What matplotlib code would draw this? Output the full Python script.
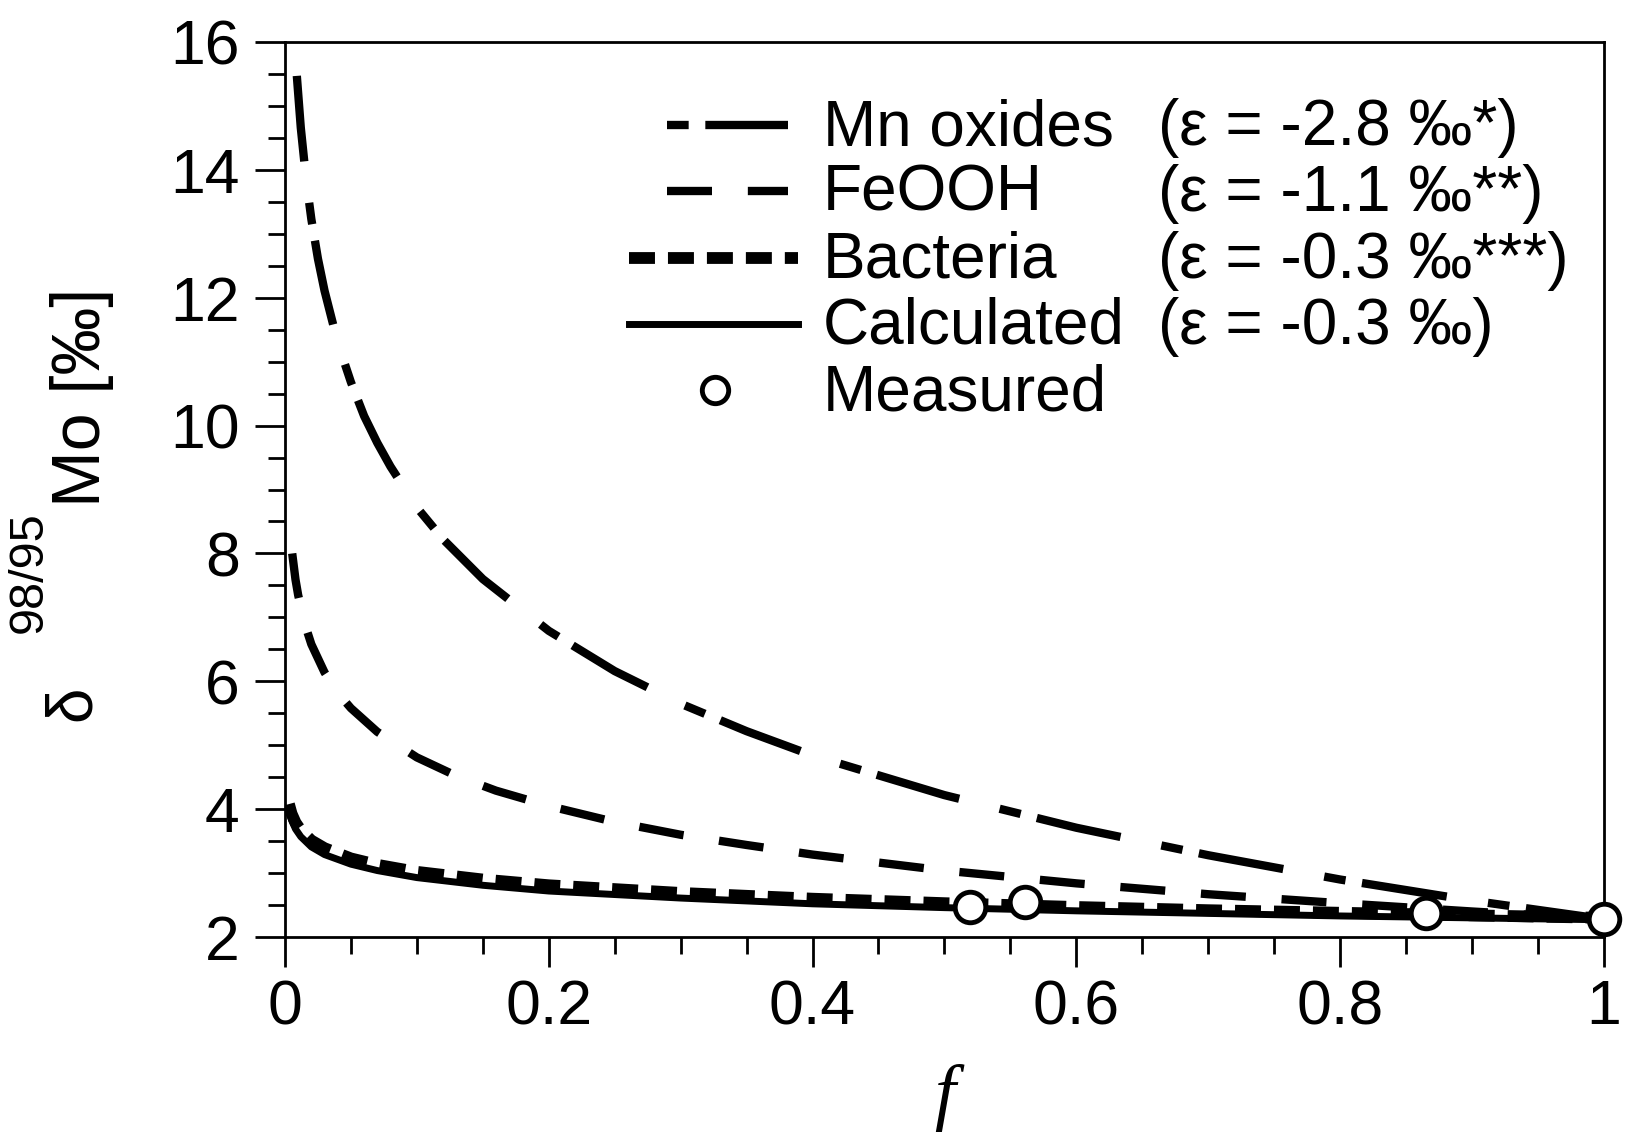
import matplotlib
matplotlib.use('Agg')
from matplotlib import pyplot as plt
from matplotlib.ticker import MultipleLocator, FuncFormatter

plt.rcParams['font.family'] = ['Liberation Sans', 'DejaVu Sans']

# curvas (f, delta98/95Mo)
f_mn = [0.009, 0.012, 0.016, 0.02, 0.025, 0.03, 0.04, 0.05, 0.06, 0.07, 0.08, 0.1, 0.12,
        0.15, 0.2, 0.25, 0.3, 0.35, 0.4, 0.5, 0.6, 0.7, 0.8, 0.9, 1.0]
d_mn = [15.47, 14.66, 13.86, 13.23, 12.61, 12.11, 11.30, 10.68, 10.15, 9.73, 9.36, 8.72, 8.22,
        7.60, 6.79, 6.16, 5.65, 5.22, 4.84, 4.22, 3.71, 3.28, 2.90, 2.57, 2.28]

f_fe = [0.0055, 0.008, 0.01, 0.015, 0.02, 0.03, 0.04, 0.05, 0.07, 0.1, 0.13, 0.16, 0.2,
        0.25, 0.3, 0.35, 0.4, 0.5, 0.6, 0.7, 0.8, 0.9, 1.0]
d_fe = [8.00, 7.59, 7.35, 6.90, 6.58, 6.14, 5.82, 5.58, 5.21, 4.81, 4.52, 4.29, 4.05,
        3.80, 3.60, 3.44, 3.29, 3.04, 2.84, 2.67, 2.53, 2.40, 2.28]

f_bac = [0.003, 0.005, 0.008, 0.012, 0.02, 0.03, 0.05, 0.07, 0.1, 0.15, 0.2, 0.3, 0.4,
         0.5, 0.6, 0.7, 0.8, 0.9, 1.0]
d_bac = [4.08, 3.93, 3.79, 3.67, 3.51, 3.39, 3.23, 3.13, 3.02, 2.90, 2.81, 2.69, 2.60,
         2.53, 2.47, 2.42, 2.38, 2.34, 2.30]

f_calc = [0.003, 0.005, 0.008, 0.012, 0.02, 0.03, 0.05, 0.07, 0.1, 0.15, 0.2, 0.3, 0.4,
          0.5, 0.6, 0.7, 0.8, 0.9, 1.0]
d_calc = [3.98, 3.83, 3.69, 3.57, 3.41, 3.29, 3.14, 3.04, 2.93, 2.81, 2.72, 2.61, 2.52,
          2.46, 2.41, 2.37, 2.33, 2.30, 2.27]

# puntos medidos
f_med = [0.519, 0.561, 0.865, 1.0]
d_med = [2.47, 2.55, 2.37, 2.29]

nombres = ['Mn oxides', 'FeOOH', 'Bacteria', 'Calculated', 'Measured']
epsilons = ['(ε = -2.8 ‰*)', '(ε = -1.1 ‰**)', '(ε = -0.3 ‰***)', '(ε = -0.3 ‰)']

# estilos de linea
st_mn = dict(color='black', lw=6, linestyle=(0, (10.3, 5, 2.6, 2)))
st_fe = dict(color='black', lw=6, linestyle=(0, (5.4, 4.3)))
st_bac = dict(color='black', lw=8.5, linestyle=(0, (2.2, 1.1)))
st_calc = dict(color='black', lw=5, linestyle='-')
st_med = dict(linestyle='none', marker='o', mfc='white', mec='black')

fig = plt.figure(figsize=(16.33, 11.35), dpi=100)
ax = fig.add_axes([0.1745, 0.1744, 0.8077, 0.7886])

ax.plot(f_mn, d_mn, **st_mn)
ax.plot(f_fe, d_fe, **st_fe)
ax.plot(f_calc, d_calc, **st_calc)
ax.plot(f_bac, d_bac, **st_bac)
ax.plot(f_med, d_med, ms=22, mew=3.5, clip_on=False, zorder=5, **st_med)

ax.set_xlim(0, 1)
ax.set_ylim(2, 16)
ax.xaxis.set_major_locator(MultipleLocator(0.2))
ax.xaxis.set_minor_locator(MultipleLocator(0.05))
ax.yaxis.set_major_locator(MultipleLocator(2))
ax.yaxis.set_minor_locator(MultipleLocator(0.5))
ax.xaxis.set_major_formatter(FuncFormatter(lambda v, p: '%g' % round(v, 2)))

ax.tick_params(which='major', direction='out', length=21.6, width=2, labelsize=45)
ax.tick_params(which='minor', direction='out', length=12.5, width=2)
ax.tick_params(axis='y', which='major', pad=11)
ax.tick_params(axis='x', which='major', pad=8)
for s in ax.spines.values():
    s.set_linewidth(2)

ax.set_xlabel('f', family='Liberation Serif', style='italic', fontsize=54)
ax.xaxis.set_label_coords(0.5, -0.142)

# etiqueta y armada por partes: delta, superindice y "Mo [‰]"
tr = ax.transAxes
rot = dict(transform=tr, rotation=90, rotation_mode='anchor', ha='left', va='baseline',
           clip_on=False)
ax.text(-0.1478, 0.2413, 'δ', fontsize=46, **rot)
ax.text(-0.1842, 0.3397, '98/95', fontsize=35, **rot)
ax.text(-0.1403, 0.4804, 'Mo [‰]', fontsize=49, **rot)

# leyenda dibujada a mano para alinear la columna de epsilon
filas = [0.907, 0.8335, 0.759, 0.685, 0.611]
ax.plot([0.2896, 0.3813], [filas[0]] * 2, transform=tr, color='black', lw=6,
        linestyle=(15.3, (10.3, 5, 2.6, 2)))
ax.plot([0.2896, 0.3813], [filas[1]] * 2, transform=tr, **st_fe)
ax.plot([0.2608, 0.3889], [filas[2]] * 2, transform=tr, **st_bac)
ax.plot([0.2608, 0.3889], [filas[3]] * 2, transform=tr, **st_calc)
ax.plot([0.326], [filas[4]], transform=tr, ms=19, mew=3.5, **st_med)

for i in range(len(nombres)):
    ax.text(0.4079, filas[i] - 0.0223, nombres[i], transform=tr, fontsize=46, va='baseline')
for i in range(len(epsilons)):
    ax.text(0.6619, filas[i] - 0.0223, epsilons[i], transform=tr, fontsize=46, va='baseline')

fig.savefig('out.png', dpi=100)
